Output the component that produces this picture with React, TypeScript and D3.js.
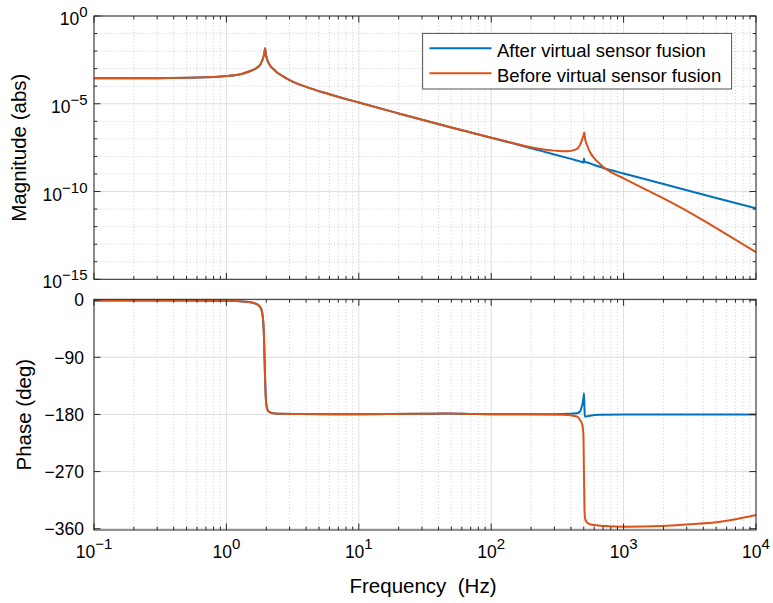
import React from "react";
import * as d3 from "d3";

// ---------- data ----------
// Magnitude, both configurations share the low-frequency part
const magFreqLow = [0.1, 0.3, 0.6, 1.0, 1.3, 1.5, 1.7, 1.8, 1.86, 1.91, 1.94, 1.96, 1.98, 2.01, 2.06, 2.15, 2.25, 2.4, 2.7, 3.0, 4.0, 6.0, 10, 20, 50, 100];
const magLow = [2.82e-4, 2.88e-4, 3.09e-4, 3.8e-4, 5.01e-4, 7.08e-4, 1.12e-3, 1.66e-3, 2.82e-3, 5.01e-3, 8.91e-3, 1.45e-2, 7.94e-3, 4.47e-3, 2.51e-3, 1.41e-3, 1.0e-3, 6.31e-4, 3.55e-4, 2.24e-4, 9.12e-5, 3.47e-5, 1.17e-5, 2.82e-6, 4.47e-7, 1.17e-7];

const magFreqAfterHigh = [150, 200, 300, 400, 470, 497, 502, 507, 520, 600, 724, 1000, 2000, 5000, 10000];
const magAfterHigh = [5.25e-8, 2.95e-8, 1.29e-8, 7.24e-9, 5.25e-9, 4.57e-9, 7.59e-9, 4.79e-9, 4.68e-9, 3.24e-9, 2.04e-9, 1.07e-9, 2.69e-10, 4.27e-11, 1.12e-11];

const magFreqBeforeHigh = [150, 200, 250, 303, 370, 437, 469, 488, 500, 505, 512, 520, 529, 557, 608, 663, 724, 817, 1000, 1400, 2000, 3000, 4246, 6000, 10000];
const magBeforeHigh = [5.5e-8, 3.31e-8, 2.51e-8, 2.14e-8, 1.95e-8, 2.51e-8, 4.57e-8, 1.0e-7, 1.78e-7, 2.29e-7, 1.0e-7, 6.31e-8, 4.47e-8, 1.78e-8, 7.08e-9, 3.72e-9, 2.09e-9, 1.2e-9, 5.62e-10, 1.58e-10, 4.07e-11, 7.94e-12, 1.74e-12, 3.63e-13, 3.47e-14];

// Phase (deg)
const phFreqLow = [0.1, 0.5, 1.0, 1.4, 1.6, 1.75, 1.83, 1.88, 1.92, 1.94, 1.96, 1.98, 2.0, 2.04, 2.1, 2.25, 2.6, 4, 10, 30, 45, 70, 100];
const phLow = [-0.5, -0.6, -1, -2.5, -4.5, -8, -14, -25, -55, -90, -125, -150, -163, -172, -176, -178, -179, -179.5, -179.6, -179.1, -178.6, -179.2, -179.6];

const phFreqAfterHigh = [200, 350, 443, 470, 483, 493, 500, 502, 506, 510, 520, 557, 663, 1000, 10000];
const phAfterHigh = [-179.7, -179.5, -178.3, -175, -168, -160, -150, -147, -168, -183.5, -183.2, -182, -180.6, -180.2, -180];

const phFreqBeforeHigh = [200, 350, 443, 469, 488, 497, 502, 507, 511, 526, 574, 724, 1000, 2000, 3162, 5000, 7000, 10000];
const phBeforeHigh = [-179.8, -180.5, -183.4, -188.6, -196.5, -212, -275, -330, -343, -349.6, -353.8, -355.8, -356.8, -355.7, -353, -349.9, -345.1, -338.4];

// ticks
const freqTickExps = [-1, 0, 1, 2, 3, 4];
const magTickExps = [0, -5, -10, -15];
const phaseTicks = [0, -90, -180, -270, -360];

const seriesNames = ["After virtual sensor fusion", "Before virtual sensor fusion"];
const seriesColors = ["#0072BD", "#D95319"];

// ---------- layout ----------
const W = 773;
const H = 603;
const X0 = 94;
const X1 = 756;
const MAG_TOP = 16;
const MAG_BOT = 279.3;
const PH_TOP = 299.3;
const PH_BOT = 530;
const AX = "#262626";
const FONT = "'Liberation Sans', Arial, Helvetica, sans-serif";

const zip = (a: number[], b: number[]) => a.map((v, i) => [v, b[i]] as [number, number]);

export default function App() {
  const x = d3.scaleLog().domain([0.1, 1e4]).range([X0, X1]);
  const yMag = d3.scaleLog().domain([1e-15, 1]).range([MAG_BOT, MAG_TOP]);
  const yPh = d3.scaleLinear().domain([-362, 1.3]).range([PH_BOT, PH_TOP]);

  const magLine = d3
    .line<[number, number]>()
    .x((d) => x(d[0]))
    .y((d) => yMag(d[1]))
    .curve(d3.curveMonotoneX);
  const phLine = d3
    .line<[number, number]>()
    .x((d) => x(d[0]))
    .y((d) => yPh(d[1]))
    .curve(d3.curveMonotoneX);

  const magAfter = zip(magFreqLow, magLow).concat(zip(magFreqAfterHigh, magAfterHigh));
  const magBefore = zip(magFreqLow, magLow).concat(zip(magFreqBeforeHigh, magBeforeHigh));
  const phAfter = zip(phFreqLow, phLow).concat(zip(phFreqAfterHigh, phAfterHigh));
  const phBefore = zip(phFreqLow, phLow).concat(zip(phFreqBeforeHigh, phBeforeHigh));

  const majorFreq = freqTickExps.map((e) => Math.pow(10, e));
  const minorFreq: number[] = [];
  for (let e = -1; e < 4; e++) for (let k = 2; k <= 9; k++) minorFreq.push(k * Math.pow(10, e));

  const majorMag = magTickExps.map((e) => Math.pow(10, e));
  const minorMag: number[] = [];
  for (let e = -14; e <= -1; e++) if (!magTickExps.includes(e)) minorMag.push(Math.pow(10, e));

  const majLen = 6.5;
  const minLen = 3.3;

  const panelFrame = (top: number, bot: number) => (
    <rect x={X0} y={top} width={X1 - X0} height={bot - top} fill="none" stroke={AX} strokeWidth={1} />
  );

  const vGrid = (top: number, bot: number, key: string) => (
    <g key={key}>
      {minorFreq.map((f, i) => (
        <line key={"mn" + i} x1={x(f)} x2={x(f)} y1={top} y2={bot} stroke="#c4c4c4" strokeWidth={0.8} strokeDasharray="1 2.2" />
      ))}
      {majorFreq.map((f, i) => (
        <line key={"mj" + i} x1={x(f)} x2={x(f)} y1={top} y2={bot} stroke="#dedede" strokeWidth={1} />
      ))}
    </g>
  );

  const xTicks = (top: number, bot: number) => (
    <g stroke={AX} strokeWidth={1}>
      {majorFreq.map((f, i) => (
        <g key={"t" + i}>
          <line x1={x(f)} x2={x(f)} y1={bot} y2={bot - majLen} />
          <line x1={x(f)} x2={x(f)} y1={top} y2={top + majLen} />
        </g>
      ))}
      {minorFreq.map((f, i) => (
        <g key={"m" + i}>
          <line x1={x(f)} x2={x(f)} y1={bot} y2={bot - minLen} />
          <line x1={x(f)} x2={x(f)} y1={top} y2={top + minLen} />
        </g>
      ))}
    </g>
  );

  return (
    <svg width={W} height={H} viewBox={`0 0 ${W} ${H}`} style={{ position: "absolute", left: 0, top: 0, background: "#fff" }} fontFamily={FONT}>
      <defs>
        <clipPath id="clipMag">
          <rect x={X0} y={MAG_TOP} width={X1 - X0} height={MAG_BOT - MAG_TOP} />
        </clipPath>
        <clipPath id="clipPh">
          <rect x={X0} y={PH_TOP} width={X1 - X0} height={PH_BOT - PH_TOP} />
        </clipPath>
      </defs>
      <rect x={0} y={0} width={W} height={H} fill="#fff" />

      {/* ---------- magnitude panel ---------- */}
      <rect x={X0} y={MAG_TOP} width={X1 - X0} height={MAG_BOT - MAG_TOP} fill="#fff" />
      {vGrid(MAG_TOP, MAG_BOT, "vgm")}
      {minorMag.map((m, i) => (
        <line key={"hm" + i} x1={X0} x2={X1} y1={yMag(m)} y2={yMag(m)} stroke="#c4c4c4" strokeWidth={0.8} strokeDasharray="1 2.2" />
      ))}
      {majorMag.map((m, i) => (
        <line key={"hM" + i} x1={X0} x2={X1} y1={yMag(m)} y2={yMag(m)} stroke="#dedede" strokeWidth={1} />
      ))}
      <g clipPath="url(#clipMag)" fill="none" strokeWidth={2} strokeLinejoin="round">
        <path d={magLine(magAfter) || ""} stroke={seriesColors[0]} />
        <path d={magLine(magBefore) || ""} stroke={seriesColors[1]} />
      </g>
      {xTicks(MAG_TOP, MAG_BOT)}
      <g stroke={AX} strokeWidth={1}>
        {majorMag.map((m, i) => (
          <g key={"yt" + i}>
            <line x1={X0} x2={X0 + majLen} y1={yMag(m)} y2={yMag(m)} />
            <line x1={X1} x2={X1 - majLen} y1={yMag(m)} y2={yMag(m)} />
          </g>
        ))}
        {minorMag.map((m, i) => (
          <g key={"ym" + i}>
            <line x1={X0} x2={X0 + minLen} y1={yMag(m)} y2={yMag(m)} />
            <line x1={X1} x2={X1 - minLen} y1={yMag(m)} y2={yMag(m)} />
          </g>
        ))}
      </g>
      {panelFrame(MAG_TOP, MAG_BOT)}
      {magTickExps.map((e, i) => (
        <text key={"yl" + i} x={87.5} y={yMag(Math.pow(10, e)) + 9} textAnchor="end" fontSize={17.5} fill="#000">
          10
          <tspan fontSize={15} dy={-8}>
            {e === 0 ? "0" : "\u2212" + Math.abs(e)}
          </tspan>
        </text>
      ))}
      <text transform={`translate(26, ${(MAG_TOP + MAG_BOT) / 2}) rotate(-90)`} textAnchor="middle" fontSize={20.5} fill="#000">
        Magnitude (abs)
      </text>

      {/* legend */}
      <g>
        <rect x={422.7} y={33.3} width={309} height={55.7} fill="#fff" stroke={AX} strokeWidth={0.8} />
        {seriesNames.map((n, i) => (
          <g key={"lg" + i}>
            <line x1={429.5} x2={491.5} y1={48.3 + i * 25} y2={48.3 + i * 25} stroke={seriesColors[i]} strokeWidth={2} />
            <text x={497} y={56.7 + i * 25} fontSize={18.5} fill="#000">
              {n}
            </text>
          </g>
        ))}
      </g>

      {/* ---------- phase panel ---------- */}
      <rect x={X0} y={PH_TOP} width={X1 - X0} height={PH_BOT - PH_TOP} fill="#fff" />
      {vGrid(PH_TOP, PH_BOT, "vgp")}
      {phaseTicks.map((p, i) => (
        <line key={"hp" + i} x1={X0} x2={X1} y1={yPh(p)} y2={yPh(p)} stroke="#dedede" strokeWidth={1} />
      ))}
      <g clipPath="url(#clipPh)" fill="none" strokeWidth={2} strokeLinejoin="round">
        <path d={phLine(phAfter) || ""} stroke={seriesColors[0]} />
        <path d={phLine(phBefore) || ""} stroke={seriesColors[1]} />
      </g>
      {xTicks(PH_TOP, PH_BOT)}
      <g stroke={AX} strokeWidth={1}>
        {phaseTicks.map((p, i) => (
          <g key={"pt" + i}>
            <line x1={X0} x2={X0 + majLen} y1={yPh(p)} y2={yPh(p)} />
            <line x1={X1} x2={X1 - majLen} y1={yPh(p)} y2={yPh(p)} />
          </g>
        ))}
      </g>
      {panelFrame(PH_TOP, PH_BOT)}
      {phaseTicks.map((p, i) => (
        <text key={"pl" + i} x={84} y={yPh(p) + 6.3} textAnchor="end" fontSize={17.5} fill="#000">
          {p === 0 ? "0" : "\u2212" + Math.abs(p)}
        </text>
      ))}
      <text transform={`translate(30.7, ${(PH_TOP + PH_BOT) / 2}) rotate(-90)`} textAnchor="middle" fontSize={20.5} fill="#000">
        Phase (deg)
      </text>

      {/* x tick labels */}
      {freqTickExps.map((e, i) => (
        <text key={"xl" + i} x={x(Math.pow(10, e))} y={558.3} textAnchor="middle" fontSize={17.5} fill="#000">
          10
          <tspan fontSize={15} dy={-9}>
            {e < 0 ? "\u2212" + Math.abs(e) : String(e)}
          </tspan>
        </text>
      ))}
      <text x={(X0 + X1) / 2 - 2} y={593.3} textAnchor="middle" fontSize={20.5} fill="#000" style={{ whiteSpace: "pre" }}>
        {"Frequency  (Hz)"}
      </text>
    </svg>
  );
}
